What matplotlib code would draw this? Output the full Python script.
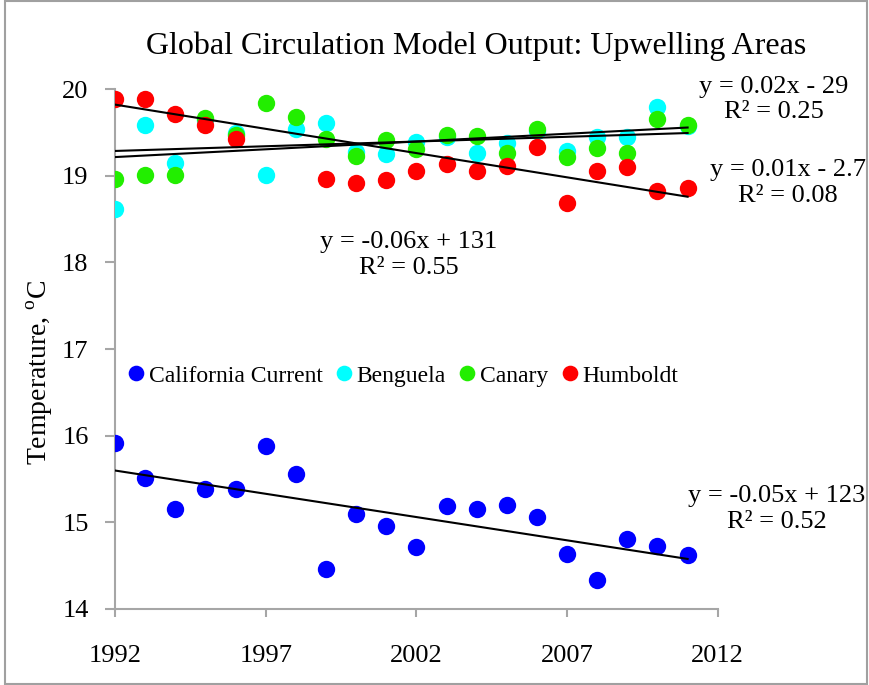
import matplotlib.pyplot as plt
import numpy as np
from matplotlib.patches import Rectangle

plt.rcParams['font.family'] = ['Liberation Serif', 'DejaVu Serif']
plt.rcParams['mathtext.fontset'] = 'custom'
plt.rcParams['mathtext.rm'] = 'Liberation Serif'

# data (Humboldt 1997/98 lie above the 20 limit, so they are clipped)
years = np.arange(1992, 2012)
california = [15.91, 15.51, 15.15, 15.39, 15.39, 15.88, 15.56, 14.46, 15.10, 14.96,
              14.72, 15.19, 15.15, 15.20, 15.06, 14.63, 14.33, 14.81, 14.73, 14.62]
benguela = [18.61, 19.59, 19.15, 19.64, 19.49, 19.01, 19.54, 19.61, 19.27, 19.25,
            19.39, 19.45, 19.26, 19.38, 19.52, 19.29, 19.45, 19.45, 19.79, 19.57]
canary = [18.96, 19.01, 19.01, 19.67, 19.47, 19.84, 19.68, 19.42, 19.23, 19.41,
          19.31, 19.47, 19.46, 19.26, 19.54, 19.22, 19.32, 19.26, 19.65, 19.59]
humboldt = [19.88, 19.89, 19.71, 19.58, 19.42, 20.12, 20.12, 18.96, 18.92, 18.95,
            19.06, 19.14, 19.06, 19.11, 19.33, 18.69, 19.06, 19.10, 18.82, 18.86]

series = [('California Current', california, '#0000ff'),
          ('Benguela', benguela, '#00ffff'),
          ('Canary', canary, '#22ee00'),
          ('Humboldt', humboldt, '#ff0000')]

fig = plt.figure(figsize=(8.7, 6.85), dpi=100)
ax = fig.add_axes([0.1322, 0.111, 0.6928, 0.759])

for name, vals, col in series:
    v = np.array(vals, dtype=float)
    ax.plot(years, v, 'o', color=col, ms=12.5, mec='none', label=name, zorder=3)

# linear trendlines
for name, vals, col in series:
    v = np.array(vals, dtype=float)
    p = np.polyfit(years, v, 1)
    xx = np.array([years[0], years[-1]])
    ax.plot(xx, np.polyval(p, xx), color='black', lw=1.5, zorder=4)

ax.set_xlim(1992, 2012)
ax.set_ylim(14, 20)
ax.set_xticks(np.arange(1992, 2013, 5))
ax.set_yticks(np.arange(14, 21, 1))
for s in ['top', 'right']:
    ax.spines[s].set_visible(False)
for s in ['left', 'bottom']:
    ax.spines[s].set_color('#a6a6a6')
    ax.spines[s].set_linewidth(1.5)
ax.tick_params(axis='x', direction='out', length=6, width=1.5, color='#a6a6a6',
               labelsize=19, pad=20)
ax.tick_params(axis='y', direction='out', length=7, width=1.5, color='#a6a6a6',
               labelsize=19, pad=12)

leg = ax.legend(loc='upper left', bbox_to_anchor=(-0.003, 0.487), ncol=4, frameon=False,
                fontsize=17, handletextpad=0.0, columnspacing=0.35, borderaxespad=0,
                handlelength=1.1, markerscale=0.9)

fig.text(0.547, 0.933, 'Global Circulation Model Output: Upwelling Areas',
         ha='center', va='center', fontsize=23)
fig.text(0.046, 0.457, r'Temperature, $^{\mathrm{o}}$C', rotation=90,
         ha='center', va='center', fontsize=20)

# trendline equations as shown on the chart
eqs = [(0.889, 0.855, 'y = 0.02x - 29\nR² = 0.25'),
       (0.906, 0.733, 'y = 0.01x - 2.7\nR² = 0.08'),
       (0.470, 0.628, 'y = -0.06x + 131\nR² = 0.55'),
       (0.893, 0.257, 'y = -0.05x + 123\nR² = 0.52')]
for x, y, t in eqs:
    fig.text(x, y, t, ha='center', va='center', fontsize=19, linespacing=1.2)

fig.patches.append(Rectangle((0.006, 0.002), 0.99, 0.996, transform=fig.transFigure,
                             fill=False, edgecolor='#a0a0a0', lw=1.5))

fig.savefig('out.png', dpi=100)
plt.close(fig)
